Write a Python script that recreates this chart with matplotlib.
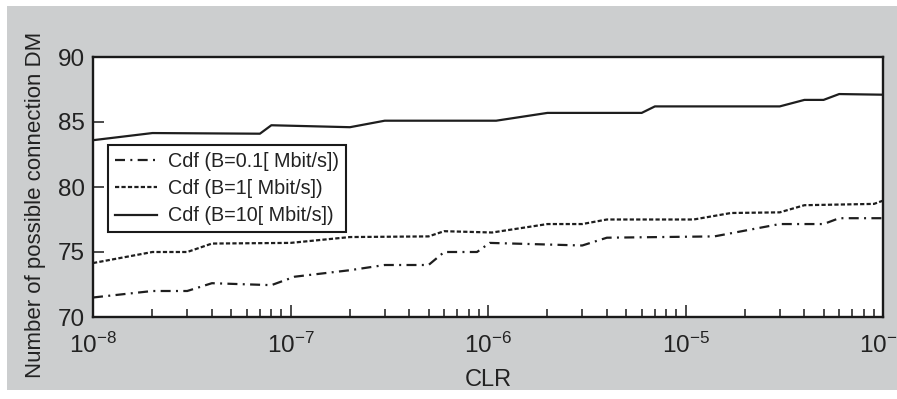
import numpy as np
import matplotlib
matplotlib.use('Agg')
import matplotlib.pyplot as plt
import matplotlib.ticker as ticker
from matplotlib.patches import Rectangle

plt.rcParams['font.family'] = ['Liberation Sans', 'DejaVu Sans']
plt.rcParams['mathtext.fontset'] = 'custom'
plt.rcParams['mathtext.rm'] = 'Liberation Sans'

# valores
clr_01 = [1e-8, 2e-8, 3e-8, 4e-8, 8e-8, 1.05e-7, 2e-7, 3e-7, 5e-7, 6e-7,
          8.8e-7, 1.02e-6, 3e-6, 4e-6, 1.4e-5, 3e-5, 5e-5, 6e-5, 1e-4]
cdf_01 = [71.5, 72.0, 72.0, 72.6, 72.45, 73.1, 73.6, 74.0, 74.0, 75.0,
          75.0, 75.7, 75.5, 76.1, 76.2, 77.15, 77.15, 77.6, 77.6]

clr_1 = [1e-8, 2e-8, 3e-8, 4e-8, 1e-7, 2e-7, 5e-7, 6e-7, 1.05e-6, 2e-6,
         3e-6, 4e-6, 1.1e-5, 1.7e-5, 3e-5, 4e-5, 9e-5, 1e-4]
cdf_1 = [74.15, 75.0, 75.0, 75.65, 75.7, 76.15, 76.2, 76.6, 76.5, 77.15,
         77.15, 77.5, 77.5, 78.0, 78.05, 78.6, 78.7, 78.95]

clr_10 = [1e-8, 2e-8, 7e-8, 8e-8, 2e-7, 3e-7, 1.1e-6, 2e-6, 6e-6, 7e-6,
          3e-5, 4e-5, 5e-5, 6e-5, 1e-4]
cdf_10 = [83.6, 84.15, 84.1, 84.75, 84.6, 85.1, 85.1, 85.7, 85.7, 86.2,
          86.2, 86.7, 86.7, 87.15, 87.1]

etiquetas = ['Cdf (B=0.1[ Mbit/s])', 'Cdf (B=1[ Mbit/s])', 'Cdf (B=10[ Mbit/s])']

fig = plt.figure(figsize=(8.97, 3.99), dpi=100, facecolor='white')
# fondo gris del panel
fondo = Rectangle((7/897, 9/399), 1 - 7/897, (390 - 6)/399,
                  transform=fig.transFigure, facecolor='#cccecf',
                  edgecolor='none', zorder=-10)
fig.add_artist(fondo)

ax = fig.add_axes([93/897, 82/399, 790/897, 260/399], zorder=1)
ax.set_facecolor('white')

lw = 1.6
ax.plot(clr_01, cdf_01, color='#1e1e1e', lw=lw, linestyle=(0, (4.5, 2.4, 0.9, 2.4)), label=etiquetas[0])
ax.plot(clr_1, cdf_1, color='#1e1e1e', lw=lw, linestyle=(0, (1.9, 1.0)), label=etiquetas[1])
ax.plot(clr_10, cdf_10, color='#1e1e1e', lw=lw, linestyle='-', label=etiquetas[2])

ax.set_xscale('log')
ax.set_xlim(1e-8, 1e-4)
ax.set_ylim(70, 90)
ax.set_yticks([70, 75, 80, 85, 90])
ax.xaxis.set_major_locator(ticker.LogLocator(base=10))
ax.xaxis.set_minor_locator(ticker.LogLocator(base=10, subs=np.arange(2, 10)))
ax.xaxis.set_minor_formatter(ticker.NullFormatter())
ax.xaxis.set_major_formatter(ticker.FuncFormatter(
    lambda x, pos: r'$\mathregular{10^{%d}}$' % int(round(np.log10(x)))))

for s in ax.spines.values():
    s.set_linewidth(1.7)
    s.set_color('#1a1a1a')

ax.tick_params(axis='both', which='both', direction='in', top=False, right=False,
               width=1.1, colors='#1a1a1a', labelcolor='#222222')
ax.tick_params(axis='x', which='major', length=9, labelsize=17.5, pad=11)
ax.tick_params(axis='x', which='minor', length=6)
ax.tick_params(axis='y', which='major', length=8, labelsize=17.5, pad=6)

ax.set_xlabel('CLR', fontsize=17, color='#222222')
ax.set_ylabel('Number of possible connection DM', fontsize=16, color='#222222')
ax.xaxis.set_label_coords(0.5, -0.2)
ax.yaxis.set_label_coords(-0.06, 0.431)

leg = ax.legend(loc='upper left', bbox_to_anchor=(0.019, 0.6615), borderaxespad=0,
                fontsize=14.2, handlelength=2.15, handletextpad=0.55, labelspacing=0.42,
                borderpad=0.35, fancybox=False, framealpha=1, edgecolor='#1a1a1a')
leg.get_frame().set_linewidth(1.5)
for t in leg.get_texts():
    t.set_color('#222222')

plt.savefig('out.png', dpi=100, facecolor=fig.get_facecolor())
